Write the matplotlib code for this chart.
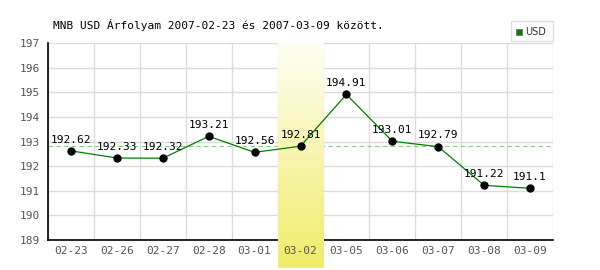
import matplotlib
matplotlib.use("Agg")
import matplotlib.pyplot as plt
import numpy as np
from matplotlib.patches import Rectangle
from matplotlib.colors import LinearSegmentedColormap

categories = ["02-23", "02-26", "02-27", "02-28", "03-01", "03-02", "03-05", "03-06", "03-07", "03-08", "03-09"]
values = [192.62, 192.33, 192.32, 193.21, 192.56, 192.81, 194.91, 193.01, 192.79, 191.22, 191.1]
labels = ["192.62", "192.33", "192.32", "193.21", "192.56", "192.81", "194.91", "193.01", "192.79", "191.22", "191.1"]
highlight = "03-02"
ref_value = 192.81
yticks = [189, 190, 191, 192, 193, 194, 195, 196, 197]
title = "MNB USD Árfolyam 2007-02-23 és 2007-03-09 között."
series_name = "USD"

plt.rcParams['font.family'] = ['DejaVu Sans Mono', 'DejaVu Sans']

fig = plt.figure(figsize=(6, 2.7), dpi=100)
ax = fig.add_axes([48/600, 30/270, 505/600, 197/270])
n = len(categories)
x = np.arange(n)

# grid
for b in np.arange(-0.5, n + 0.5, 1.0):
    ax.axvline(b, color="#dcdcdc", lw=1, zorder=1)
for yv in yticks:
    ax.axhline(yv, color="#dcdcdc", lw=1, zorder=1)

ax.axhline(ref_value, color="#88cc88", lw=0.8, ls=(0, (4, 3)), zorder=2)

# highlight band with gradient
hi = categories.index(highlight)
grad = np.linspace(0, 1, 256).reshape(-1, 1)
cmap = LinearSegmentedColormap.from_list("hl", ["#fefef4", "#f0ec6a"])
ax.imshow(grad, extent=(hi - 0.5, hi + 0.5, 187.85, 197), cmap=cmap, aspect='auto',
          origin='upper', clip_on=False, zorder=2.5)
ax.set_xlim(-0.5, n - 0.5)
ax.set_ylim(189, 197)

ax.plot(x, values, color="#008000", lw=0.9, zorder=3)
ax.plot(x, values, 'o', color="black", ms=5, zorder=4)
for xi, v, lab in zip(x, values, labels):
    ax.annotate(lab, (xi, v), xytext=(0, 4.5), textcoords="offset points",
                ha="center", va="bottom", fontsize=8, color="black", zorder=5)

ax.set_xticks(x)
ax.set_xticklabels(categories, fontsize=8, color="#555555")
ax.set_yticks(yticks)
ax.set_yticklabels([str(v) for v in yticks], fontsize=8, color="#555555")
ax.tick_params(axis='x', length=0, pad=4)
ax.tick_params(axis='y', length=0, pad=6)
ax.xaxis.set_zorder(7)
for s in ["top", "right"]:
    ax.spines[s].set_visible(False)
for s in ["left", "bottom"]:
    ax.spines[s].set_color("black")
    ax.spines[s].set_linewidth(1.2)
ax.spines["bottom"].set_zorder(2.4)
ax.spines["left"].set_zorder(6)

fig.text(53/600, 1 - 25/270, title, fontsize=8, ha="left", va="center", color="black")

# legend box
lx0, ly0 = 511/600, 1 - 41/270
fig.patches.append(Rectangle((lx0, ly0), 42/600, 20/270, transform=fig.transFigure,
                             facecolor="white", edgecolor="#dddddd", lw=1))
fig.patches.append(Rectangle((516/600, 1 - 35/270), 6/600, 6/270, transform=fig.transFigure,
                             facecolor="#008000", edgecolor="#666666", lw=0.5))
fig.text(525/600, 1 - 32/270, series_name, fontsize=7, ha="left", va="center",
         color="#333333", family="DejaVu Sans")

fig.savefig("out.png", dpi=100)
